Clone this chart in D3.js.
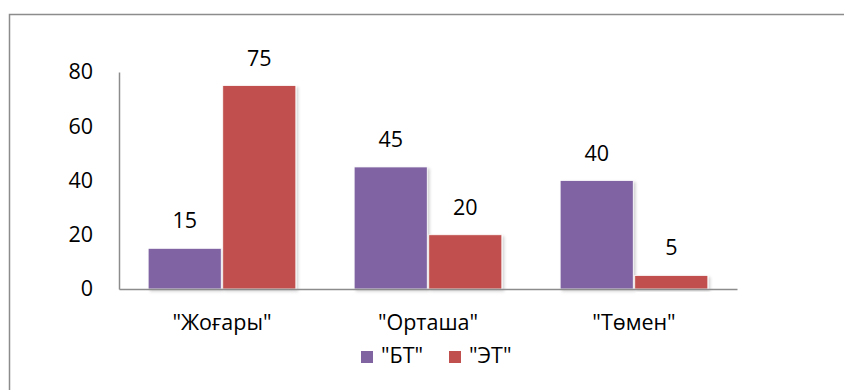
<!DOCTYPE html>
<html>
<head>
<meta charset="utf-8">
<script src="https://cdn.jsdelivr.net/npm/d3@7"></script>
<style>
  html, body { margin: 0; padding: 0; background: #fff; }
  svg { display: block; font-family: "Open Sans", sans-serif; }
</style>
</head>
<body>
<svg id="chart" width="844" height="390"></svg>
<script>
// Categories, series and axis ticks
const categories = ['"Жоғары"', '"Орташа"', '"Төмен"'];
const seriesNames = ['"БТ"', '"ЭТ"'];
const seriesBT = [15, 45, 40];
const seriesET = [75, 20, 5];
const yTicks = [0, 20, 40, 60, 80];
const colors = ["#8064A2", "#C0504D"];

const series = [seriesBT, seriesET];
const svg = d3.select("#chart");
const FONT = "'Open Sans', sans-serif";
const FS = 21.5;

// Outer frame of the chart area
svg.append("rect")
  .attr("x", 9.5).attr("y", 14.5)
  .attr("width", 900).attr("height", 400)
  .attr("fill", "#fff").attr("stroke", "#8c8c8c").attr("stroke-width", 1.5);

const plot = { left: 119, right: 737, top: 72, bottom: 289 };

const x0 = d3.scaleBand().domain(categories).range([plot.left, plot.right]).paddingInner(0.283).paddingOuter(0.1415);
const x1 = d3.scaleBand().domain(d3.range(series.length)).range([0, x0.bandwidth()]).paddingInner(0.02);
const y = d3.scaleLinear().domain([0, 80]).range([plot.bottom, plot.top]);

const defs = svg.append("defs");
const f = defs.append("filter").attr("id", "shadow").attr("x", "-10%").attr("y", "-10%").attr("width", "130%").attr("height", "130%");
f.append("feDropShadow").attr("dx", 2).attr("dy", 2).attr("stdDeviation", 1.5).attr("flood-color", "#000").attr("flood-opacity", 0.18);

// Y axis labels (no tick marks)
const yAxis = d3.axisLeft(y).tickValues(yTicks).tickSize(0).tickPadding(26);
const gy = svg.append("g").attr("transform", `translate(${plot.left},0)`).call(yAxis);
gy.select(".domain").attr("stroke", "#8c8c8c").attr("stroke-width", 1.5);
gy.selectAll("text").attr("font-size", FS).attr("fill", "#000").attr("font-family", FONT);

// Bars and value labels
categories.forEach((c, ci) => {
  series.forEach((s, si) => {
    const v = s[ci];
    const bx = x0(c) + x1(si);
    svg.append("rect")
      .attr("x", bx).attr("y", y(v))
      .attr("width", x1.bandwidth()).attr("height", y(0) - y(v))
      .attr("fill", colors[si])
      .attr("stroke", "#fff").attr("stroke-width", 0.8)
      .attr("filter", "url(#shadow)");
    svg.append("text")
      .attr("x", bx + x1.bandwidth() / 2).attr("y", y(v) - 20)
      .attr("text-anchor", "middle")
      .attr("font-size", FS).attr("font-family", FONT).attr("fill", "#000")
      .text(v);
  });
});

// X axis
const xAxis = d3.axisBottom(x0).tickSize(0).tickPadding(26);
const gx = svg.append("g").attr("transform", `translate(0,${plot.bottom})`).call(xAxis);
gx.select(".domain").attr("stroke", "#8c8c8c").attr("stroke-width", 1.5);
gx.selectAll("text").attr("font-size", FS).attr("fill", "#000").attr("font-family", FONT);

// Legend
const legendX = [361, 449];
seriesNames.forEach((n, i) => {
  const g = svg.append("g").attr("transform", `translate(${legendX[i]},351)`);
  g.append("rect").attr("width", 12).attr("height", 12).attr("fill", colors[i]);
  g.append("text").attr("x", 20).attr("y", 12).attr("font-size", FS).attr("font-family", FONT).attr("fill", "#000").text(n);
});
</script>
</body>
</html>
